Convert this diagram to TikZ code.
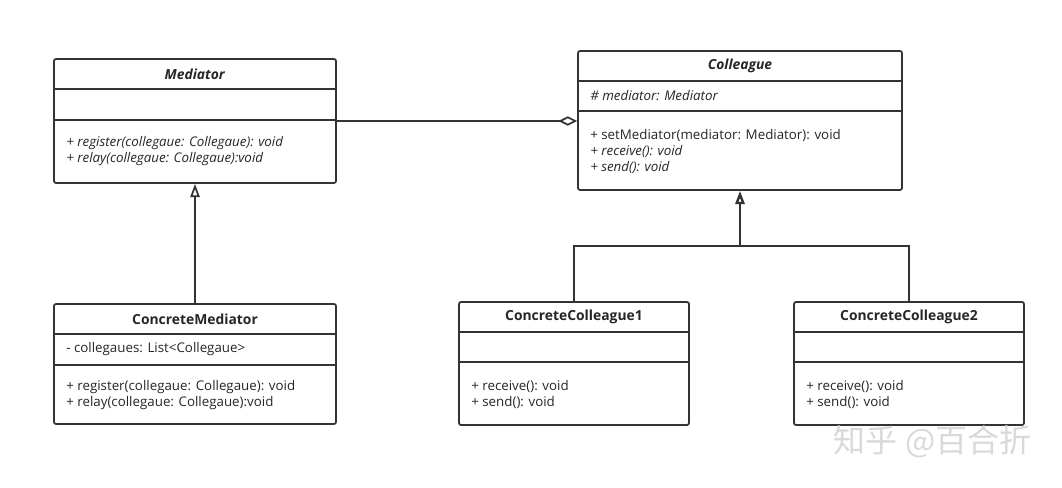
\documentclass[tikz,border=0pt]{standalone}
\usepackage{fontspec}
\setmainfont{Open Sans}
\newfontfamily\cjkfont{Noto Sans CJK SC}
\usetikzlibrary{arrows.meta,fit}
\colorlet{umlline}{black!80}
\colorlet{umltext}{black!85}
\colorlet{markcolor}{black!15}
\newcommand{\umlclass}[7]{%
    \node[classbox, fit={(#2,#3) (#4,#5)}] (#1) {};
    \draw[umlline, line width=1.3pt] (#2,#6) -- (#4,#6);
    \draw[umlline, line width=1.3pt] (#2,#7) -- (#4,#7);
}

\begin{document}
\begin{tikzpicture}[x=0.75pt, y=-0.75pt,
        classbox/.style={draw=umlline, line width=1.3pt, rounded corners=1.5pt, inner sep=0pt, fill=white},
        classname/.style={font=\fontsize{10.4}{12}\selectfont\bfseries, text=umltext},
        members/.style={font=\fontsize{10}{12}\selectfont, text=umltext, anchor=west, align=left, inner sep=0pt},
        inherit/.style={draw=umlline, line width=1.3pt, -{Triangle[open, length=10pt, width=7pt]}},
        assoc/.style={draw=umlline, line width=1.3pt, {Diamond[open, length=14pt, width=7pt]}-}]
    \useasboundingbox (0,0) rectangle (1062,487);
    % --- Mediator side ---
    \umlclass{med}{54}{59}{336}{183}{89}{120}
    \node[classname] (medname) at (195,74) {\textit{Mediator}};
    \node[members] (medops) at (66,151) {\textit{+ register(collegaue: Collegaue): void}\\ \textit{+ relay(collegaue: Collegaue):void}};
    \umlclass{cmed}{54}{304}{336}{424}{334}{365}
    \node[classname] (cmedname) at (195,319) {ConcreteMediator};
    \node[members] (cmedattr) at (66,349.5) {- collegaues: List<Collegaue>};
    \node[members] (cmedops) at (66,395) {+ register(collegaue: Collegaue): void\\ + relay(collegaue: Collegaue):void};
    % --- Colleague side ---
    \umlclass{coll}{578}{51}{902}{190}{81}{111}
    \node[classname] (collname) at (740,66) {\textit{Colleague}};
    \node[members] (collattr) at (590,96) {\textit{\# mediator: Mediator}};
    \node[members] (collops) at (590,151) {+ setMediator(mediator: Mediator): void\\ \textit{+ receive(): void}\\ \textit{+ send(): void}};
    \umlclass{cc1}{459}{302}{689}{425}{332}{362}
    \node[classname] (cc1name) at (574,317) {ConcreteColleague1};
    \node[members] (cc1ops) at (471,394) {+ receive(): void\\ + send(): void};
    \umlclass{cc2}{794}{302}{1024}{425}{332}{362}
    \node[classname] (cc2name) at (909,317) {ConcreteColleague2};
    \node[members] (cc2ops) at (806,394) {+ receive(): void\\ + send(): void};
    % --- relations ---
    \coordinate (join) at (740,246);
    \draw[assoc] (coll.west |- 0,121) -- (med.east |- 0,121);
    \draw[inherit] (cmed.north) -- (med.south);
    \draw[umlline, line width=1.3pt] (cc1.north) |- (join) -| (cc2.north);
    \draw[inherit, line width=1.8pt] (join) -- (coll.south);
    % watermark
    \node[font=\cjkfont\fontsize{24}{24}\selectfont, text=markcolor, anchor=east] (mark) at (1036,442) {知乎 @百合折};
\end{tikzpicture}
\end{document}
